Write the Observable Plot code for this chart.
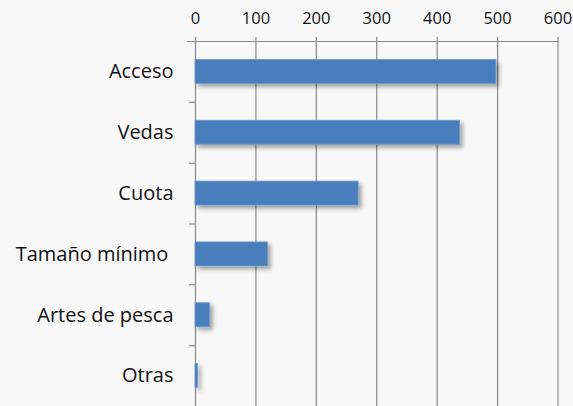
<!DOCTYPE html>
<html>
<head>
<meta charset="utf-8">
<script src="https://cdn.jsdelivr.net/npm/d3@7"></script>
<script src="https://cdn.jsdelivr.net/npm/@observablehq/plot@0.6"></script>
<style>
  html, body { margin: 0; padding: 0; background: #f8f8f8; }
  #chart svg { display: block; background: #f8f8f8; }
</style>
</head>
<body>
<div id="chart"></div>
<script>
const categories = ["Acceso", "Vedas", "Cuota", "Tamaño mínimo\u00a0", "Artes de pesca", "Otras"];
const values = [498, 438, 270, 120, 24, 4];
const xTicks = [0, 100, 200, 300, 400, 500, 600];

const data = categories.map((c, i) => ({category: c, value: values[i]}));

const W = 573, H = 406;
const mTop = 41, mLeft = 195, mRight = 15.5, mBottom = 0;
const step = (H - mTop - mBottom) / categories.length;
const barH = 24;
const inset = (step - barH) / 2;

const chart = Plot.plot({
  width: W,
  height: H,
  marginTop: mTop,
  marginLeft: mLeft,
  marginRight: mRight,
  marginBottom: mBottom,
  style: {background: "#f8f8f8", fontFamily: "'Open Sans', sans-serif", overflow: "visible"},
  x: {domain: [0, 600], axis: null, label: null},
  y: {domain: categories, padding: 0, round: false, axis: null, label: null},
  marks: [
    Plot.gridX(xTicks, {stroke: "#8a8a8a", strokeOpacity: 1, strokeWidth: 1.2}),
    Plot.barX(data, {x: "value", y: "category", fill: "#4a7ebd", stroke: "#6f9bd3", strokeWidth: 0.8, insetTop: inset, insetBottom: inset}),
    // top axis line
    Plot.ruleY([categories[0]], {x1: -13, x2: 600, dy: -step / 2, stroke: "#8a8a8a", strokeWidth: 1.2}),
    // category boundary ticks on left
    Plot.ruleY(categories.slice(1), {x1: -10, x2: 0, dy: -step / 2, stroke: "#8a8a8a", strokeWidth: 1.2}),
    Plot.axisX(xTicks, {anchor: "top", label: null, tickSize: 5, tickPadding: 13, stroke: "#8a8a8a", strokeWidth: 1.2, fontSize: 16.5, fill: "#111", tickFormat: d => String(d)}),
    Plot.axisY({anchor: "left", label: null, tickSize: 0, tickPadding: 22, fontSize: 20, fill: "#111"})
  ]
});

// drop shadow on bars
const ns = "http://www.w3.org/2000/svg";
const defs = document.createElementNS(ns, "defs");
defs.innerHTML = '<filter id="barShadow" x="-10%" y="-30%" width="130%" height="200%">' +
  '<feDropShadow dx="3" dy="3" stdDeviation="2" flood-color="#000" flood-opacity="0.35"/></filter>';
chart.insertBefore(defs, chart.firstChild);
const barG = chart.querySelector("g[aria-label='bar']");
if (barG) barG.setAttribute("filter", "url(#barShadow)");

document.getElementById("chart").appendChild(chart);
</script>
</body>
</html>
